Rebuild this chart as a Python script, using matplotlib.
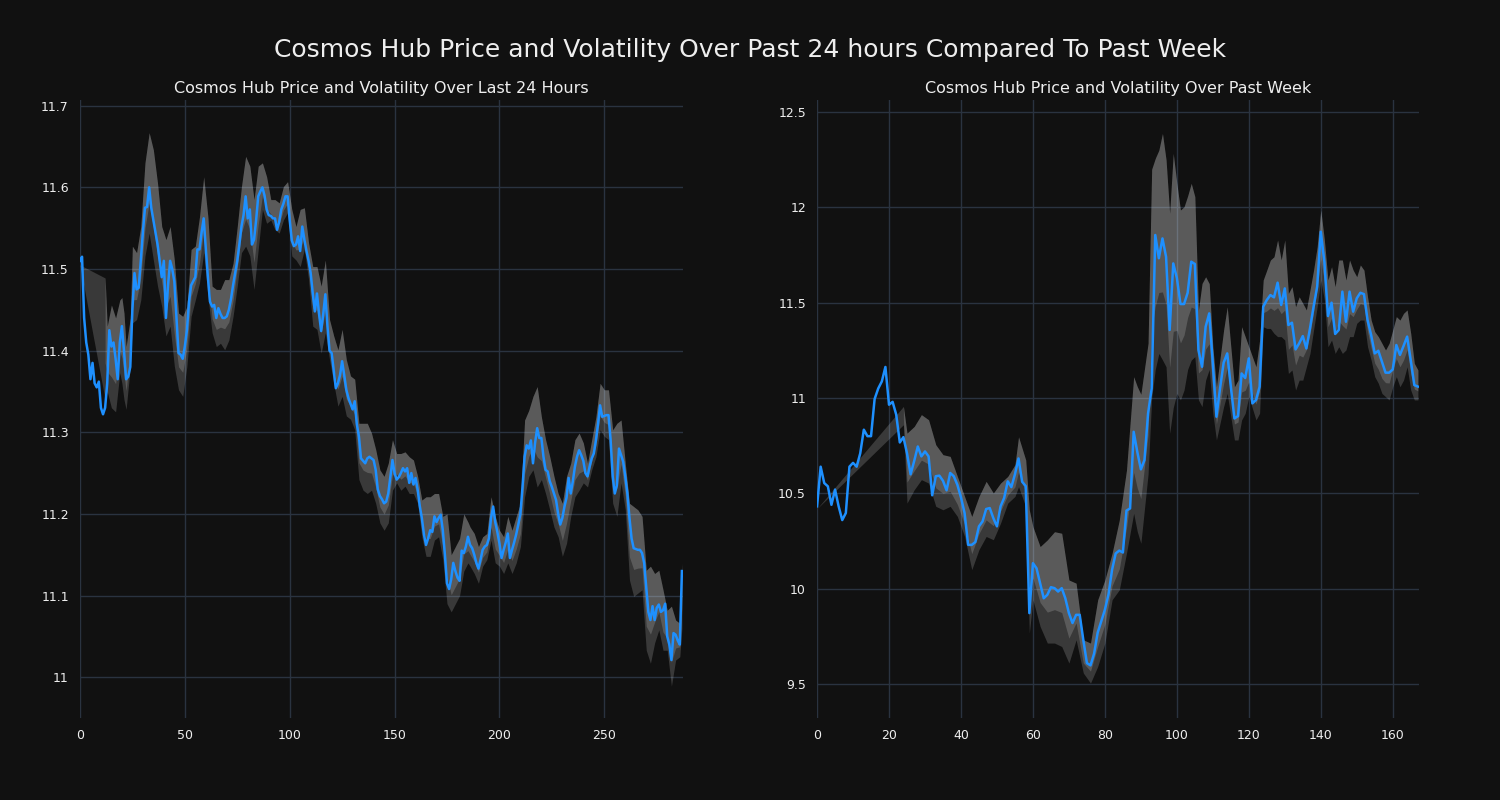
import numpy as np
import matplotlib
matplotlib.use("Agg")
import matplotlib.pyplot as plt
from matplotlib.ticker import FuncFormatter

# ---------------- data ----------------
title_main = "Cosmos Hub Price and Volatility Over Past 24 hours Compared To Past Week"
title_day = "Cosmos Hub Price and Volatility Over Last 24 Hours"
title_week = "Cosmos Hub Price and Volatility Over Past Week"

# 24h price (5-minute steps, index 0..287)
day_price = [
    11.510, 11.515, 11.440, 11.410, 11.395, 11.365, 11.385, 11.360, 11.355, 11.362,
    11.330, 11.322, 11.330, 11.360, 11.425, 11.405, 11.410, 11.390, 11.365, 11.410,
    11.430, 11.400, 11.365, 11.368, 11.380, 11.450, 11.495, 11.475, 11.477, 11.510,
    11.545, 11.575, 11.576, 11.600, 11.575, 11.560, 11.545, 11.530, 11.510, 11.490,
    11.510, 11.440, 11.480, 11.510, 11.500, 11.485, 11.440, 11.397, 11.395, 11.390,
    11.405, 11.425, 11.460, 11.480, 11.485, 11.490, 11.524, 11.524, 11.545, 11.562,
    11.525, 11.490, 11.460, 11.454, 11.456, 11.440, 11.452, 11.445, 11.440, 11.440,
    11.442, 11.450, 11.463, 11.480, 11.495, 11.510, 11.530, 11.552, 11.566, 11.589,
    11.562, 11.573, 11.530, 11.536, 11.560, 11.589, 11.595, 11.600, 11.590, 11.573,
    11.566, 11.565, 11.562, 11.562, 11.548, 11.558, 11.573, 11.580, 11.589, 11.589,
    11.560, 11.535, 11.528, 11.530, 11.540, 11.522, 11.552, 11.536, 11.522, 11.510,
    11.495, 11.470, 11.448, 11.470, 11.445, 11.424, 11.445, 11.469, 11.430, 11.400,
    11.397, 11.375, 11.354, 11.360, 11.370, 11.387, 11.370, 11.352, 11.342, 11.335,
    11.328, 11.338, 11.310, 11.295, 11.268, 11.265, 11.262, 11.268, 11.270, 11.268,
    11.266, 11.254, 11.230, 11.222, 11.218, 11.213, 11.215, 11.225, 11.246, 11.266,
    11.250, 11.242, 11.245, 11.250, 11.256, 11.252, 11.256, 11.238, 11.250, 11.236,
    11.244, 11.230, 11.210, 11.195, 11.175, 11.162, 11.170, 11.180, 11.178, 11.197,
    11.190, 11.195, 11.199, 11.180, 11.150, 11.115, 11.108, 11.120, 11.140, 11.130,
    11.122, 11.118, 11.155, 11.152, 11.160, 11.172, 11.162, 11.158, 11.150, 11.140,
    11.133, 11.144, 11.156, 11.160, 11.162, 11.170, 11.195, 11.209, 11.190, 11.178,
    11.164, 11.146, 11.156, 11.165, 11.176, 11.146, 11.156, 11.165, 11.175, 11.187,
    11.200, 11.233, 11.270, 11.284, 11.280, 11.290, 11.262, 11.287, 11.305, 11.293,
    11.293, 11.270, 11.254, 11.252, 11.240, 11.233, 11.225, 11.217, 11.200, 11.187,
    11.195, 11.209, 11.220, 11.244, 11.225, 11.240, 11.258, 11.270, 11.278, 11.272,
    11.265, 11.250, 11.246, 11.258, 11.268, 11.274, 11.290, 11.310, 11.333, 11.319,
    11.320, 11.321, 11.321, 11.291, 11.246, 11.225, 11.235, 11.280, 11.272, 11.264,
    11.246, 11.225, 11.195, 11.170, 11.158, 11.157, 11.156, 11.156, 11.152, 11.140,
    11.110, 11.080, 11.070, 11.087, 11.070, 11.085, 11.089, 11.080, 11.082, 11.090,
    11.050, 11.040, 11.021, 11.054, 11.052, 11.045, 11.040, 11.130,
]

# 24h volatility band (upper / lower edge)
day_band_x = [0, 12, 13, 15, 17, 19, 20, 21, 22, 24, 25, 27, 29, 31, 33, 35, 37, 39, 41, 43,
              45, 47, 49, 51, 53, 55, 57, 59, 61, 63, 65, 67, 69, 71, 73, 75, 77, 79, 81, 83,
              85, 87, 89, 91, 93, 95, 97, 99, 101, 103, 105, 107, 109, 111, 113, 115, 117, 119, 121, 123,
              125, 127, 129, 131, 133, 135, 137, 139, 141, 143, 145, 147, 149, 151, 153, 155, 157, 159, 161, 163,
              165, 167, 169, 171, 173, 175, 177, 179, 181, 183, 185, 186, 188, 190, 192, 194, 196, 198, 200, 202,
              204, 206, 208, 210, 212, 214, 216, 218, 220, 222, 224, 226, 228, 230, 232, 234, 236, 238, 240, 242,
              244, 246, 248, 250, 252, 254, 256, 258, 260, 262, 264, 266, 268, 270, 272, 274, 276, 278, 280, 282,
              284, 286, 287]
day_band_hi = [11.505, 11.489, 11.430, 11.456, 11.440, 11.462, 11.465, 11.446, 11.405, 11.440,
               11.528, 11.520, 11.552, 11.630, 11.667, 11.646, 11.605, 11.552, 11.536, 11.552,
               11.511, 11.446, 11.442, 11.454, 11.524, 11.528, 11.564, 11.613, 11.564, 11.479,
               11.475, 11.475, 11.487, 11.487, 11.507, 11.552, 11.601, 11.638, 11.626, 11.585,
               11.626, 11.630, 11.613, 11.585, 11.585, 11.581, 11.601, 11.607, 11.573, 11.552,
               11.573, 11.575, 11.532, 11.503, 11.503, 11.479, 11.511, 11.438, 11.418, 11.401,
               11.426, 11.389, 11.369, 11.365, 11.311, 11.311, 11.311, 11.299, 11.279, 11.254,
               11.246, 11.262, 11.291, 11.274, 11.274, 11.276, 11.270, 11.266, 11.246, 11.217,
               11.221, 11.221, 11.225, 11.225, 11.197, 11.200, 11.150, 11.160, 11.170, 11.200,
               11.190, 11.184, 11.176, 11.160, 11.172, 11.176, 11.221, 11.197, 11.180, 11.172,
               11.197, 11.180, 11.197, 11.213, 11.315, 11.327, 11.344, 11.356, 11.319, 11.291,
               11.270, 11.246, 11.225, 11.213, 11.246, 11.262, 11.291, 11.299, 11.287, 11.262,
               11.291, 11.319, 11.360, 11.352, 11.352, 11.303, 11.311, 11.315, 11.262, 11.213,
               11.209, 11.205, 11.197, 11.131, 11.136, 11.127, 11.131, 11.107, 11.082, 11.087,
               11.070, 11.066, 11.140]
day_band_lo = [11.505, 11.340, 11.350, 11.330, 11.325, 11.373, 11.360, 11.340, 11.328, 11.380,
               11.434, 11.438, 11.462, 11.516, 11.544, 11.511, 11.479, 11.454, 11.418, 11.430,
               11.381, 11.352, 11.344, 11.381, 11.442, 11.462, 11.483, 11.520, 11.467, 11.422,
               11.405, 11.409, 11.401, 11.413, 11.442, 11.479, 11.520, 11.528, 11.516, 11.475,
               11.524, 11.573, 11.556, 11.560, 11.548, 11.544, 11.560, 11.569, 11.516, 11.511,
               11.503, 11.524, 11.487, 11.430, 11.426, 11.397, 11.422, 11.389, 11.360, 11.332,
               11.344, 11.320, 11.316, 11.303, 11.242, 11.229, 11.225, 11.229, 11.213, 11.189,
               11.180, 11.189, 11.229, 11.238, 11.229, 11.234, 11.225, 11.225, 11.213, 11.172,
               11.148, 11.148, 11.168, 11.172, 11.144, 11.090, 11.080, 11.090, 11.100, 11.130,
               11.140, 11.136, 11.127, 11.115, 11.136, 11.144, 11.168, 11.140, 11.136, 11.127,
               11.140, 11.127, 11.140, 11.160, 11.221, 11.246, 11.254, 11.233, 11.242, 11.225,
               11.205, 11.184, 11.172, 11.148, 11.164, 11.197, 11.221, 11.229, 11.238, 11.233,
               11.254, 11.270, 11.303, 11.295, 11.291, 11.213, 11.197, 11.238, 11.205, 11.119,
               11.099, 11.103, 11.107, 11.033, 11.017, 11.042, 11.058, 11.033, 11.033, 10.989,
               11.021, 11.025, 11.060]

# week price (hourly, index 0..167)
week_price = [
    10.432, 10.640, 10.554, 10.537, 10.440, 10.520, 10.432, 10.360, 10.397, 10.640,
    10.660, 10.640, 10.710, 10.834, 10.800, 10.800, 10.995, 11.050, 11.087, 11.163,
    10.965, 10.980, 10.913, 10.767, 10.795, 10.710, 10.600, 10.670, 10.746, 10.694,
    10.720, 10.694, 10.490, 10.590, 10.593, 10.566, 10.516, 10.607, 10.590, 10.545,
    10.479, 10.397, 10.230, 10.230, 10.245, 10.327, 10.353, 10.418, 10.423, 10.370,
    10.327, 10.432, 10.476, 10.563, 10.533, 10.600, 10.683, 10.561, 10.538, 9.872,
    10.134, 10.107, 10.029, 9.950, 9.968, 10.008, 10.003, 9.985, 10.003, 9.950,
    9.872, 9.820, 9.863, 9.863, 9.732, 9.610, 9.598, 9.660, 9.770, 9.830,
    9.890, 9.970, 10.100, 10.185, 10.200, 10.190, 10.410, 10.421, 10.823, 10.718,
    10.626, 10.675, 10.919, 11.050, 11.855, 11.733, 11.837, 11.741, 11.357, 11.706,
    11.630, 11.493, 11.493, 11.552, 11.715, 11.703, 11.252, 11.164, 11.374, 11.444,
    11.180, 10.902, 11.050, 11.185, 11.234, 11.060, 10.893, 10.905, 11.129, 11.105,
    11.208, 10.972, 10.990, 11.059, 11.479, 11.514, 11.540, 11.528, 11.605, 11.488,
    11.575, 11.383, 11.395, 11.255, 11.287, 11.325, 11.260, 11.365, 11.479, 11.584,
    11.872, 11.715, 11.430, 11.500, 11.336, 11.357, 11.558, 11.400, 11.558, 11.453,
    11.523, 11.552, 11.545, 11.409, 11.330, 11.234, 11.248, 11.190, 11.133, 11.133,
    11.150, 11.278, 11.226, 11.273, 11.322, 11.199, 11.068, 11.060,
]

# week volatility band (upper / lower edge)
week_band_x = [0, 24, 25, 27, 29, 31, 33, 35, 37, 39, 41, 43, 45, 47, 49, 51, 53, 55, 56, 58,
               59, 60, 62, 64, 66, 68, 70, 72, 74, 76, 78, 80, 82, 84, 86, 88, 89, 90, 92, 93,
               94, 95, 96, 97, 98, 99, 100, 101, 102, 103, 104, 105, 106, 107, 108, 109, 110, 111, 113, 114,
               116, 117, 118, 119, 120, 122, 123, 124, 125, 126, 127, 128, 129, 130, 131, 132, 133, 134, 135, 136,
               137, 138, 139, 140, 141, 142, 143, 144, 145, 146, 147, 148, 149, 150, 151, 152, 153, 154, 155, 156,
               157, 158, 159, 160, 161, 162, 163, 164, 165, 166, 167]
week_band_hi = [10.420, 10.956, 10.816, 10.851, 10.913, 10.886, 10.755, 10.703, 10.694, 10.589,
                10.484, 10.379, 10.484, 10.563, 10.502, 10.554, 10.589, 10.650, 10.797, 10.675,
                10.413, 10.325, 10.221, 10.256, 10.299, 10.291, 10.046, 10.029, 9.732, 9.715,
                9.942, 10.046, 10.186, 10.360, 10.622, 11.112, 11.060, 11.020, 11.287, 12.200,
                12.257, 12.300, 12.388, 12.250, 11.969, 12.283, 12.126, 11.986, 12.003, 12.060,
                12.126, 12.056, 11.462, 11.601, 11.636, 11.600, 11.269, 11.059, 11.357, 11.479,
                11.059, 11.094, 11.374, 11.322, 11.269, 11.164, 11.304, 11.619, 11.671, 11.724,
                11.741, 11.829, 11.724, 11.829, 11.549, 11.584, 11.479, 11.531, 11.497, 11.462,
                11.566, 11.671, 11.794, 11.986, 11.829, 11.619, 11.689, 11.584, 11.724, 11.724,
                11.619, 11.724, 11.671, 11.636, 11.698, 11.671, 11.531, 11.409, 11.348, 11.322,
                11.287, 11.252, 11.287, 11.357, 11.427, 11.409, 11.444, 11.462, 11.339, 11.182,
                11.147]
week_band_lo = [10.420, 10.860, 10.449, 10.519, 10.572, 10.554, 10.432, 10.414, 10.432, 10.379,
                10.274, 10.100, 10.205, 10.274, 10.257, 10.344, 10.449, 10.484, 10.535, 10.430,
                9.767, 9.942, 9.802, 9.715, 9.715, 9.697, 9.610, 9.732, 9.558, 9.505,
                9.592, 9.715, 9.942, 9.994, 10.186, 10.395, 10.300, 10.238, 10.600, 11.000,
                11.150, 11.234, 11.200, 11.164, 10.815, 10.950, 11.024, 10.990, 11.042, 11.150,
                11.199, 11.217, 10.990, 10.955, 11.094, 11.150, 10.920, 10.780, 10.955, 11.024,
                10.780, 10.780, 10.885, 10.920, 11.007, 10.885, 10.920, 11.374, 11.365, 11.365,
                11.339, 11.322, 11.322, 11.304, 11.129, 11.147, 11.042, 11.094, 11.094, 11.164,
                11.234, 11.357, 11.479, 11.619, 11.514, 11.269, 11.304, 11.234, 11.269, 11.234,
                11.252, 11.322, 11.322, 11.392, 11.409, 11.409, 11.269, 11.199, 11.112, 11.077,
                11.024, 11.007, 10.990, 11.059, 11.112, 11.059, 11.094, 11.164, 11.042, 10.990,
                10.990]

day_xticks = [0, 50, 100, 150, 200, 250]
day_yticks = [11.0, 11.1, 11.2, 11.3, 11.4, 11.5, 11.6, 11.7]
week_xticks = [0, 20, 40, 60, 80, 100, 120, 140, 160]
week_yticks = [9.5, 10.0, 10.5, 11.0, 11.5, 12.0, 12.5]

# ---------------- style ----------------
BG = "#111111"
GRID = "#2a3340"
LINE = "#1e90ff"
TXT = "#eeeeee"

fig = plt.figure(figsize=(15, 8), dpi=100, facecolor=BG)
fig.text(0.5, 0.9375, title_main, ha="center", va="center", fontsize=18, color=TXT)

ax1 = fig.add_axes([0.0533, 0.1025, 0.4020, 0.7725])
ax2 = fig.add_axes([0.5447, 0.1025, 0.4013, 0.7725])


def draw(ax, price, bx, bhi, blo, title, xticks, yticks, xlim, ylim):
    ax.set_facecolor(BG)
    x = np.arange(len(price))
    bx = np.asarray(bx, float)
    bhi = np.asarray(bhi, float)
    blo = np.asarray(blo, float)
    # full band (darker)
    ax.fill_between(bx, blo, bhi, color="white", alpha=0.17, linewidth=0, zorder=2)
    # upper part of band (lighter, overlapping)
    split = blo + 0.3 * (bhi - blo)
    ax.fill_between(bx[1:], split[1:], bhi[1:], color="white", alpha=0.17,
                    linewidth=0, zorder=2)
    ax.plot(x, price, color=LINE, linewidth=1.8, zorder=3)
    ax.set_xlim(*xlim)
    ax.set_ylim(*ylim)
    ax.set_xticks(xticks)
    ax.set_yticks(yticks)
    ax.yaxis.set_major_formatter(FuncFormatter(lambda v, p: f"{v:g}"))
    ax.grid(True, color=GRID, linewidth=1.0, zorder=0)
    ax.set_axisbelow(True)
    for s in ax.spines.values():
        s.set_visible(False)
    ax.tick_params(colors=TXT, labelsize=9, length=0, pad=8)
    ax.set_title(title, color=TXT, fontsize=11.5, pad=5)


draw(ax1, day_price, day_band_x, day_band_hi, day_band_lo, title_day,
     day_xticks, day_yticks, (0, 287.5), (10.95, 11.707))
draw(ax2, week_price, week_band_x, week_band_hi, week_band_lo, title_week,
     week_xticks, week_yticks, (0, 167.3), (9.322, 12.563))

fig.savefig("out.png", dpi=100, facecolor=BG)
